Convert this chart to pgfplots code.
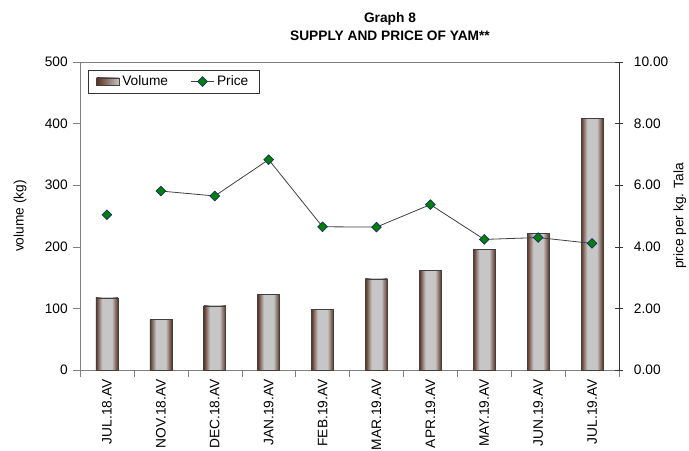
\documentclass[border=0pt]{standalone}
\usepackage{pgfplots}
\pgfplotsset{compat=1.18}
\usepackage{fontspec}
\setmainfont{Liberation Sans}

\definecolor{barbrown}{RGB}{92,48,32}
\definecolor{bargray}{RGB}{198,198,198}
\definecolor{axgray}{RGB}{128,128,128}
\definecolor{mkgreen}{RGB}{0,128,0}
\definecolor{mkblue}{RGB}{20,20,140}

% brown edges, flat grey middle
\pgfdeclarehorizontalshading{barshade}{100bp}{%
  color(0bp)=(barbrown); color(25bp)=(barbrown);
  color(39bp)=(bargray); color(61bp)=(bargray);
  color(75bp)=(barbrown); color(100bp)=(barbrown)}

% volume (kg) per month
\pgfplotstableread{
x vol
0 117
1 82
2 104
3 123
4 98
5 148
6 162
7 196
8 222
9 409
}\voldata

% price per kg (Tala); nan breaks the line after JUL.18
\pgfplotstableread{
x price
0 5.04
0.5 nan
1 5.81
2 5.65
3 6.83
4 4.65
5 4.64
6 5.37
7 4.24
8 4.30
9 4.11
}\pricedata

\begin{document}
\begin{tikzpicture}
\useasboundingbox (-60pt,-60pt) rectangle (456.75pt,277.5pt);

\begin{axis}[
    at={(0,0)}, anchor=south west,
    scale only axis, width=404.25pt, height=231pt,
    xmin=-0.5, xmax=9.5, ymin=0, ymax=500,
    axis line style={axgray},
    xtick={-0.5,0.5,...,9.5}, xticklabels={},
    xtick pos=bottom, ytick pos=left,
    tick style={axgray},
    major tick length=5pt,
    tick align=outside,
    extra x ticks={0,1,...,9},
    extra x tick labels={JUL.18.AV,NOV.18.AV,DEC.18.AV,JAN.19.AV,FEB.19.AV,MAR.19.AV,APR.19.AV,MAY.19.AV,JUN.19.AV,JUL.19.AV},
    extra x tick style={major tick length=0pt,
        xticklabel style={rotate=90, anchor=east, inner ysep=0pt, inner xsep=7pt}},
    ytick={0,100,...,500},
    yticklabel style={inner sep=0pt, xshift=-4pt},
    /pgf/number format/assume math mode=true,
    ticklabel style={font=\fontsize{10.3}{12}\selectfont},
    every axis y label/.style={at={(axis description cs:-0.111,0.5)}, rotate=90, anchor=center, font=\fontsize{10.3}{12}\selectfont},
    ylabel={volume (kg)},
]
% one plot per bar so that each bar gets its own shading
\pgfplotsinvokeforeach{0,...,9}{
  \addplot[ybar, bar width=16.5pt, draw=black!75, line width=0.5pt,
      shading=barshade, restrict x to domain=#1:#1]
      table[x=x, y=vol] {\voldata};
}
\end{axis}

\begin{axis}[
    at={(0,0)}, anchor=south west,
    scale only axis, width=404.25pt, height=231pt,
    xmin=-0.5, xmax=9.5, ymin=0, ymax=10,
    axis x line=none, axis y line*=right,
    axis line style={black!80, -},
    ytick={0,2,...,10},
    tick style={black!80},
    major tick length=6pt,
    tick align=center,
    yticklabel style={/pgf/number format/.cd, fixed, fixed zerofill, precision=2, /tikz/.cd, inner sep=0pt, xshift=8pt},
    /pgf/number format/assume math mode=true,
    ticklabel style={font=\fontsize{10.3}{12}\selectfont},
    every axis y label/.style={at={(axis description cs:1.113,0.5)}, rotate=90, anchor=center, font=\fontsize{10.3}{12}\selectfont},
    ylabel={price per kg. Tala},
    unbounded coords=jump,
    legend style={at={(axis description cs:0.015,0.974)}, anchor=north west,
        legend columns=2, draw=black!80, font=\fontsize{10.3}{12}\selectfont,
        inner xsep=6pt, inner ysep=2pt,
        /tikz/every even column/.style={column sep=15pt}},
    legend cell align=left,
]
\addlegendimage{area legend, draw=black!75, left color=barbrown, right color=bargray}
\addlegendentry{Volume}
\addplot[color=black!75, line width=0.6pt, mark=square*, mark size=2.6pt,
    mark options={rotate=45, fill=mkgreen, draw=mkblue, line width=0.4pt}]
    table[x=x, y=price] {\pricedata};
\addlegendentry{Price}
\end{axis}

\node[font=\bfseries\fontsize{10.3}{12}\selectfont] at (232.5pt,263pt) {Graph 8};
\node[font=\bfseries\fontsize{10.3}{12}\selectfont] at (232.5pt,250.5pt) {SUPPLY AND PRICE OF YAM**};
\end{tikzpicture}
\end{document}
